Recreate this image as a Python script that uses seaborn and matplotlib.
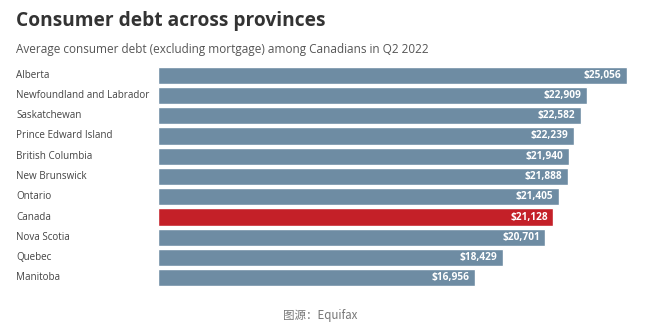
import matplotlib
matplotlib.use("Agg")
import matplotlib.pyplot as plt
import seaborn as sns
import pandas as pd

provinces = ["Alberta", "Newfoundland and Labrador", "Saskatchewan", "Prince Edward Island",
             "British Columbia", "New Brunswick", "Ontario", "Canada", "Nova Scotia",
             "Quebec", "Manitoba"]
debt = [25056, 22909, 22582, 22239, 21940, 21888, 21405, 21128, 20701, 18429, 16956]

sns.set_theme(style="white")
plt.rcParams['font.family'] = ['Open Sans', 'Noto Sans CJK SC', 'DejaVu Sans']

BLUE = "#6e8ca3"
RED = "#c42028"
df = pd.DataFrame({"province": provinces, "debt": debt})
palette = {p: (RED if p == "Canada" else BLUE) for p in provinces}

fig = plt.figure(figsize=(6.5, 3.28), dpi=100)
fig.patch.set_facecolor("white")
ax = fig.add_axes([158/650, 1 - 288/328, (628 - 158)/650, 223/328])
sns.barplot(data=df, x="debt", y="province", hue="province", palette=palette,
            order=provinces, legend=False, width=0.85, ax=ax, saturation=1)
ax.set_xlim(0, 25056 * 470 / 469)
ax.set_ylim(10.5, -0.5)
ax.set_xlabel("")
ax.set_ylabel("")
ax.set_xticks([])
ax.set_yticks([])
for s in ax.spines.values():
    s.set_visible(False)

for i, (p, v) in enumerate(zip(provinces, debt)):
    ax.text(v - 300, i, f"${v:,}", ha="right", va="center", color="white",
            fontsize=7.3, fontweight="bold")
    fig.text(16/650, 1 - (75 + i * 20.3)/328, p, ha="left", va="center",
             color="#444444", fontsize=7.1)

fig.text(16/650, 1 - 21/328, "Consumer debt across provinces", ha="left", va="center",
         fontsize=13.8, fontweight="bold", color="#333333")
fig.text(16/650, 1 - 50/328, "Average consumer debt (excluding mortgage) among Canadians in Q2 2022",
         ha="left", va="center", fontsize=8.5, color="#555555")
fig.text(320/650, 1 - 315/328, "图源：Equifax", ha="center", va="center",
         fontsize=8.3, color="#777777", family=['Noto Sans CJK SC', 'DejaVu Sans'])

fig.savefig("out.png", dpi=100, facecolor="white")
